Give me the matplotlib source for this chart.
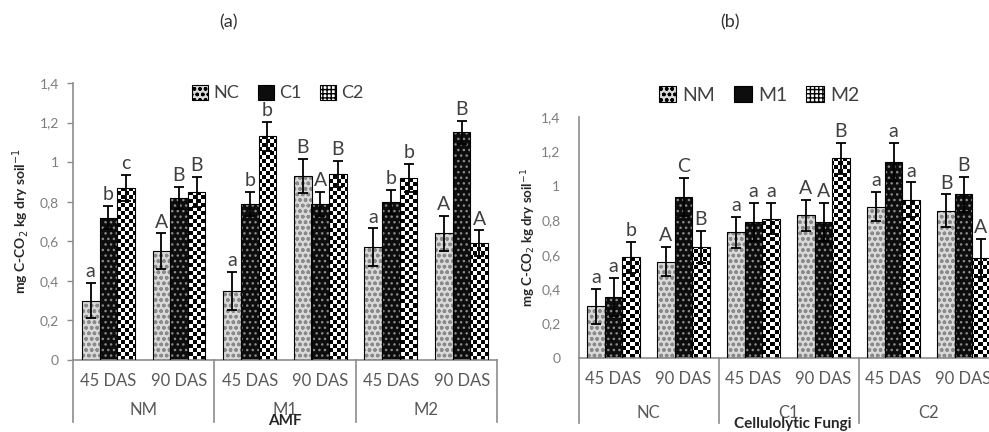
import numpy as np
import matplotlib
matplotlib.use('Agg')
import matplotlib.pyplot as plt
import matplotlib.transforms as mtransforms
from matplotlib.patches import Patch

plt.rcParams['font.family'] = ['Lato', 'DejaVu Sans']
plt.rcParams['hatch.linewidth'] = 1.0

# categories
days = ['45 DAS', '90 DAS']
amf = ['NM', 'M1', 'M2']
fungi = ['NC', 'C1', 'C2']

# (a) order: NM-45, NM-90, M1-45, M1-90, M2-45, M2-90 ; series = cellulolytic fungi
a_nc = [0.30, 0.55, 0.35, 0.93, 0.57, 0.64]
a_c1 = [0.72, 0.82, 0.79, 0.79, 0.80, 1.15]
a_c2 = [0.87, 0.85, 1.13, 0.94, 0.92, 0.59]
a_nc_err = [0.09, 0.09, 0.095, 0.085, 0.095, 0.09]
a_c1_err = [0.06, 0.055, 0.06, 0.06, 0.06, 0.06]
a_c2_err = [0.065, 0.075, 0.073, 0.065, 0.07, 0.065]
a_nc_let = ['a', 'A', 'a', 'B', 'a', 'A']
a_c1_let = ['b', 'B', 'b', 'A', 'b', 'B']
a_c2_let = ['c', 'B', 'b', 'B', 'b', 'A']

# (b) order: NC-45, NC-90, C1-45, C1-90, C2-45, C2-90 ; series = AMF
b_nm = [0.30, 0.56, 0.73, 0.83, 0.88, 0.855]
b_m1 = [0.355, 0.935, 0.79, 0.79, 1.14, 0.95]
b_m2 = [0.585, 0.645, 0.81, 1.16, 0.92, 0.58]
b_nm_err = [0.10, 0.085, 0.09, 0.09, 0.085, 0.095]
b_m1_err = [0.11, 0.11, 0.11, 0.11, 0.11, 0.10]
b_m2_err = [0.09, 0.095, 0.09, 0.09, 0.10, 0.11]
b_nm_let = ['a', 'A', 'a', 'A', 'a', 'B']
b_m1_let = ['a', 'C', 'a', 'A', 'a', 'B']
b_m2_let = ['b', 'B', 'a', 'B', 'a', 'A']

yticks = [0, 0.2, 0.4, 0.6, 0.8, 1.0, 1.2, 1.4]
ytick_lab = ['0', '0,2', '0,4', '0,6', '0,8', '1', '1,2', '1,4']

grey = '#8c8c8c'
txt = '#404040'
W, H = 989, 432


def checker(ax, bars, ncols, nrows):
    # black / white squares clipped to each bar
    grid = np.indices((nrows, ncols)).sum(axis=0) % 2
    x0, x1 = ax.get_xlim()
    for b in bars:
        im = ax.imshow(grid, cmap='gray', extent=(x0, x1, 0, 1.4), aspect='auto',
                       interpolation='nearest', zorder=2)
        im.set_clip_path(b)
    ax.set_xlim(x0, x1)
    ax.set_ylim(0, 1.4)


def panel(ax, series, errs, letters, groups, xlabel, sep_len, grp_y, ncols, nrows):
    x = np.arange(6)
    w = 0.25
    ax.set_xlim(-0.5, 5.5)
    ax.set_ylim(0, 1.4)
    offs = [-w, 0, w]
    for k in range(3):
        xs = x + offs[k]
        if k == 0:
            ax.bar(xs, series[k], w, color='#d9d9d9', edgecolor='#8a8a8a', hatch='ooo', lw=0, zorder=2)
        elif k == 1:
            ax.bar(xs, series[k], w, color='#0d0d0d', edgecolor='#8a8a8a', hatch='...', lw=0, zorder=2)
        else:
            bars = ax.bar(xs, series[k], w, color='white', lw=0, zorder=2)
            checker(ax, bars, ncols, nrows)
        ax.bar(xs, series[k], w, fill=False, edgecolor='black', lw=0.8, zorder=3)
        ax.errorbar(xs, series[k], yerr=errs[k], fmt='none', ecolor='black',
                    elinewidth=1.3, capsize=3.5, capthick=1.3, zorder=4)
        for xi, v, e, t in zip(xs, series[k], errs[k], letters[k]):
            ax.annotate(t, (xi, v + e), xytext=(0, 2), textcoords='offset points',
                        ha='center', va='bottom', fontsize=14, color=txt)

    ax.set_yticks(yticks, ytick_lab)
    ax.set_xticks(x, days * 3)
    ax.tick_params(axis='x', length=0, pad=9, labelsize=12, labelcolor='#595959')
    for s in ['top', 'right']:
        ax.spines[s].set_visible(False)
    for s in ['left', 'bottom']:
        ax.spines[s].set_color(grey)
        ax.spines[s].set_linewidth(1.2)

    trans = mtransforms.blended_transform_factory(ax.transData, ax.transAxes)
    for xs in [-0.5, 1.5, 3.5, 5.5]:
        ax.plot([xs, xs], [0, -sep_len], transform=trans, color=grey, lw=1.2, clip_on=False)
    for g, name in enumerate(groups):
        ax.text(2 * g + 0.5, -grp_y, name, transform=trans, ha='center', va='center',
                fontsize=12, color='#595959')


fig = plt.figure(figsize=(W / 100, H / 100), dpi=100)

# (a)
ax1 = fig.add_axes([73 / W, 72 / H, 424 / W, 277 / H])
panel(ax1, [a_nc, a_c1, a_c2], [a_nc_err, a_c1_err, a_c2_err],
      [a_nc_let, a_c1_let, a_c2_let], amf, 'AMF', 0.224, 0.18, 106, 69)
ax1.tick_params(axis='y', direction='out', length=4, width=1, color=grey,
                pad=6, labelsize=10, labelcolor='#7f7f7f')
ax1.set_ylabel('mg C-CO$_2$ kg dry soil$^{-1}$', fontsize=10, fontweight='bold',
               color='#262626', labelpad=6)
fig.text(285 / W, 1 - 421 / H, 'AMF', ha='center', va='center', fontsize=11,
         fontweight='bold', color='#262626')
h1 = [Patch(facecolor='#d9d9d9', edgecolor='black', hatch='ooo', lw=0.8),
      Patch(facecolor='#0d0d0d', edgecolor='black', lw=0.8),
      Patch(facecolor='white', edgecolor='black', hatch='++++', lw=0.8)]
ax1.legend(h1, fungi, ncol=3, loc='center', bbox_to_anchor=(278 / W, 1 - 93 / H),
           bbox_transform=fig.transFigure, frameon=False, fontsize=13,
           handlelength=0.9, handleheight=0.9, handletextpad=0.3, columnspacing=1.0,
           labelcolor=txt)

# (b)
ax2 = fig.add_axes([578.5 / W, 74 / H, 420 / W, 241 / H])
panel(ax2, [b_nm, b_m1, b_m2], [b_nm_err, b_m1_err, b_m2_err],
      [b_nm_let, b_m1_let, b_m2_let], fungi, 'Cellulolytic Fungi', 0.27, 0.228, 105, 60)
ax2.tick_params(axis='y', length=0, pad=13, labelsize=10, labelcolor='#7f7f7f')
ax2.set_ylabel('mg C-CO$_2$ kg dry soil$^{-1}$', fontsize=9.5, fontweight='bold',
               color='#262626', labelpad=2)
fig.text(793 / W, 1 - 424 / H, 'Cellulolytic Fungi', ha='center', va='center',
         fontsize=11, fontweight='bold', color='#262626')
h2 = [Patch(facecolor='#d9d9d9', edgecolor='black', hatch='ooo', lw=0.8),
      Patch(facecolor='#0d0d0d', edgecolor='black', lw=0.8),
      Patch(facecolor='white', edgecolor='black', hatch='++++', lw=0.8)]
ax2.legend(h2, amf, ncol=3, loc='center', bbox_to_anchor=(759 / W, 1 - 95 / H),
           bbox_transform=fig.transFigure, frameon=False, fontsize=14,
           handlelength=0.9, handleheight=0.9, handletextpad=0.3, columnspacing=1.0,
           labelcolor=txt)

fig.text(228 / W, 1 - 22 / H, '(a)', ha='center', va='center', fontsize=13, color='#333333')
fig.text(730 / W, 1 - 22 / H, '(b)', ha='center', va='center', fontsize=13, color='#333333')

fig.savefig('out.png', dpi=100)
